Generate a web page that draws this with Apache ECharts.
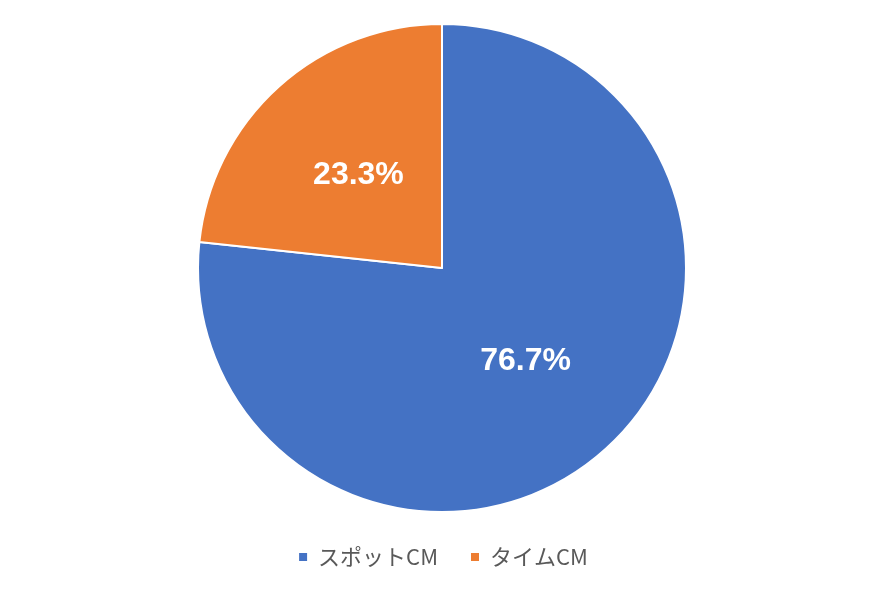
<!DOCTYPE html>
<html><head><meta charset="utf-8">
<script src="https://cdn.jsdelivr.net/npm/echarts@6/dist/echarts.min.js"></script>
<style>html,body{margin:0;padding:0;background:#fff}#c{width:885px;height:591px}</style>
</head><body><div id="c"></div>
<script>
const categories = ['スポットCM', 'タイムCM'];
const values = [76.7, 23.3];
const colors = ['#4472C4', '#ED7D31'];

const chart = echarts.init(document.getElementById('c'), null, {renderer: 'canvas'});
chart.setOption({
  animation: false,
  color: colors,
  legend: {
    data: categories,
    top: 541,
    left: 'center',
    itemWidth: 10,
    itemHeight: 10,
    itemGap: 31,
    icon: 'rect',
    textStyle: {color: '#595959', fontSize: 22, fontFamily: '"Noto Sans CJK JP", sans-serif', padding: [0, 0, 0, 5]}
  },
  series: [{
    type: 'pie',
    center: [442, 268],
    radius: [0, 244],
    startAngle: 90,
    clockwise: true,
    itemStyle: {borderColor: '#fff', borderWidth: 2},
    label: {
      position: 'inside',
      formatter: p => p.value.toFixed(1) + '%',
      color: '#fff',
      fontSize: 32,
      fontWeight: 'bold',
      fontFamily: '"Liberation Sans", Arial, sans-serif'
    },
    labelLine: {show: false},
    emphasis: {disabled: true},
    data: categories.map((c, i) => ({name: c, value: values[i]}))
  }]
});
</script></body></html>
